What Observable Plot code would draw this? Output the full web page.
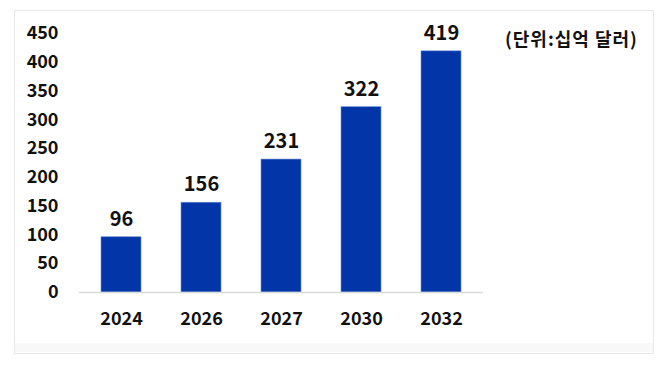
<!DOCTYPE html>
<html>
<head>
<meta charset="utf-8">
<script src="https://cdn.jsdelivr.net/npm/d3@7"></script>
<script src="https://cdn.jsdelivr.net/npm/@observablehq/plot@0.6"></script>
<style>
  html, body { margin: 0; padding: 0; background: #ffffff; }
  #wrap { position: relative; width: 659px; height: 365px; overflow: hidden; }
  #frame { position: absolute; left: 14px; top: 10px; width: 638px; height: 342px; border: 1px solid #e8e8e8; background: #ffffff; }
  #band { position: absolute; left: 15px; top: 343px; width: 638px; height: 9px; background: #f8f8f8; }
  #chart { position: absolute; left: 0; top: 0; }
  #unit { position: absolute; left: 505px; top: 26px; font-family: "Noto Sans CJK KR", sans-serif; font-weight: bold; font-size: 18px; letter-spacing: 1px; color: #111; white-space: nowrap; line-height: 24px; }
</style>
</head>
<body>
<div id="wrap">
  <div id="frame"></div>
  <div id="band"></div>
  <div id="chart"></div>
  <div id="unit"></div>
</div>
<script>
const years = ["2024", "2026", "2027", "2030", "2032"];
const values = [96, 156, 231, 322, 419];
const yTicks = [0, 50, 100, 150, 200, 250, 300, 350, 400, 450];
const unitLabel = "(단위:십억 달러)";

const data = years.map((y, i) => ({year: y, value: values[i]}));

document.getElementById("unit").textContent = unitLabel;

const chart = Plot.plot({
  width: 659,
  height: 365,
  marginLeft: 79,
  marginRight: 176,
  marginTop: 33,
  marginBottom: 73,
  style: {background: "transparent", fontFamily: "'Noto Sans CJK KR', sans-serif", fontSize: "18px", fontWeight: "bold", color: "#111"},
  x: {domain: years, paddingInner: 0.5, paddingOuter: 0.25, align: 0.5},
  y: {domain: [0, 450]},
  marks: [
    Plot.barY(data, {x: "year", y: "value", fill: "#0236a8", stroke: "#6d8fd6", strokeWidth: 0.6}),
    Plot.ruleY([0], {stroke: "#d9d9d9", strokeWidth: 1.5}),
    Plot.text(data, {x: "year", y: "value", text: d => String(d.value), dy: -18, fontSize: 20, fontWeight: "bold", fill: "#111"}),
    Plot.axisY({ticks: yTicks, tickSize: 0, tickPadding: 21, label: null, fontSize: 18, fontWeight: "bold", fill: "#111"}),
    Plot.axisX({tickSize: 0, tickPadding: 20, label: null, fontSize: 18, fontWeight: "bold", fill: "#111"})
  ]
});
document.getElementById("chart").appendChild(chart);
</script>
</body>
</html>
